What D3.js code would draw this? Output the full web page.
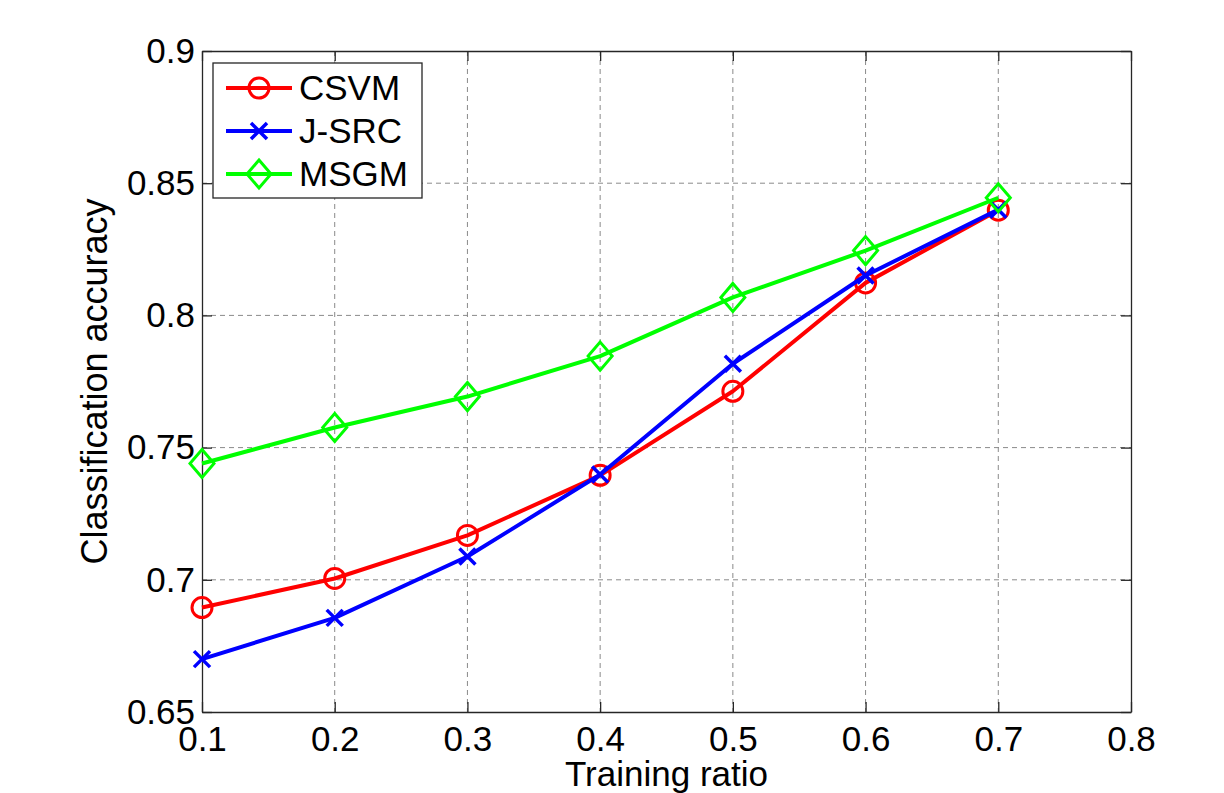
<!DOCTYPE html>
<html>
<head>
<meta charset="utf-8">
<script src="https://cdn.jsdelivr.net/npm/d3@7"></script>
<style>
  body { margin: 0; background: #fff; }
  text { font-family: "Liberation Sans", Arial, sans-serif; fill: #000; }
</style>
</head>
<body>
<div id="chart"></div>
<script>
// data
const ratios = [0.1, 0.2, 0.3, 0.4, 0.5, 0.6, 0.7];
const csvm = [0.6895, 0.7005, 0.7168, 0.7395, 0.7713, 0.8123, 0.8398];
const jsrc = [0.6700, 0.6856, 0.7088, 0.7398, 0.7817, 0.8151, 0.8400];
const msgm = [0.7440, 0.7576, 0.7693, 0.7846, 0.8068, 0.8245, 0.8445];
const xTicks = [0.1, 0.2, 0.3, 0.4, 0.5, 0.6, 0.7, 0.8];
const yTicks = [0.65, 0.7, 0.75, 0.8, 0.85, 0.9];

const series = [
  { name: 'CSVM', values: csvm, color: '#ff0000', marker: 'circle' },
  { name: 'J-SRC', values: jsrc, color: '#0000ff', marker: 'cross' },
  { name: 'MSGM', values: msgm, color: '#00ff00', marker: 'diamond' }
];

const W = 1224, H = 793;
const margin = { top: 51, right: 93, bottom: 81, left: 202 };
const width = W - margin.left - margin.right;
const height = H - margin.top - margin.bottom;
const fontSize = '35px';

const svg = d3.select('#chart').append('svg')
  .attr('width', W).attr('height', H);
const g = svg.append('g')
  .attr('transform', `translate(${margin.left},${margin.top})`);

const x = d3.scaleLinear().domain([0.1, 0.8]).range([0, width]);
const y = d3.scaleLinear().domain([0.65, 0.9]).range([height, 0]);

// dashed grid
g.append('g').selectAll('line').data(xTicks.slice(1, -1)).join('line')
  .attr('x1', d => x(d)).attr('x2', d => x(d))
  .attr('y1', 0).attr('y2', height)
  .attr('stroke', '#8a8a8a').attr('stroke-width', 1).attr('stroke-dasharray', '5,4');
g.append('g').selectAll('line').data(yTicks.slice(1, -1)).join('line')
  .attr('y1', d => y(d)).attr('y2', d => y(d))
  .attr('x1', 0).attr('x2', width)
  .attr('stroke', '#8a8a8a').attr('stroke-width', 1).attr('stroke-dasharray', '5,4');

// axes with inward ticks, mirrored on top/right
const fmt = d3.format('');
const xAxis = g.append('g').attr('transform', `translate(0,${height})`)
  .call(d3.axisBottom(x).tickValues(xTicks).tickFormat(fmt).tickSizeInner(-10).tickSizeOuter(0).tickPadding(14));
const yAxis = g.append('g')
  .call(d3.axisLeft(y).tickValues(yTicks).tickFormat(fmt).tickSizeInner(-10).tickSizeOuter(0).tickPadding(7));
g.append('g').call(d3.axisTop(x).tickValues(xTicks).tickFormat('').tickSizeInner(-10).tickSizeOuter(0));
g.append('g').attr('transform', `translate(${width},0)`)
  .call(d3.axisRight(y).tickValues(yTicks).tickFormat('').tickSizeInner(-10).tickSizeOuter(0));

g.selectAll('.domain, .tick line').attr('stroke', '#262626').attr('stroke-width', 1.3);
xAxis.selectAll('text').style('font-size', fontSize);
yAxis.selectAll('text').style('font-size', fontSize);

// axis titles
g.append('text')
  .attr('x', width / 2).attr('y', height + 74)
  .attr('text-anchor', 'middle').style('font-size', fontSize)
  .text('Training ratio');
g.append('text')
  .attr('transform', `translate(-95,${height / 2}) rotate(-90)`)
  .attr('text-anchor', 'middle').style('font-size', '36px')
  .text('Classification accuracy');

// markers
function drawMarker(sel, type, color) {
  if (type === 'circle') {
    sel.append('circle').attr('r', 10)
      .attr('fill', 'none').attr('stroke', color).attr('stroke-width', 3);
  } else if (type === 'cross') {
    sel.append('path').attr('d', 'M-8,-8L8,8M-8,8L8,-8')
      .attr('fill', 'none').attr('stroke', color).attr('stroke-width', 3.5);
  } else {
    sel.append('path').attr('d', 'M0,-14L12,0L0,14L-12,0Z')
      .attr('fill', 'none').attr('stroke', color).attr('stroke-width', 3);
  }
}

const line = d3.line().x(d => x(d[0])).y(d => y(d[1]));

series.forEach(s => {
  const pts = ratios.map((r, i) => [r, s.values[i]]);
  g.append('path').datum(pts)
    .attr('d', line)
    .attr('fill', 'none').attr('stroke', s.color).attr('stroke-width', 4)
    .attr('stroke-linejoin', 'round');
  pts.forEach(p => {
    const m = g.append('g').attr('transform', `translate(${x(p[0])},${y(p[1])})`);
    drawMarker(m, s.marker, s.color);
  });
});

// legend
const legend = g.append('g').attr('transform', 'translate(11,12)');
legend.append('rect').attr('width', 209).attr('height', 135)
  .attr('fill', '#fff').attr('stroke', '#262626').attr('stroke-width', 1.3);
series.forEach((s, i) => {
  const row = legend.append('g').attr('transform', `translate(0,${25 + i * 43})`);
  row.append('line').attr('x1', 13).attr('x2', 79)
    .attr('stroke', s.color).attr('stroke-width', 4);
  const m = row.append('g').attr('transform', 'translate(46,0)');
  drawMarker(m, s.marker, s.color);
  row.append('text').attr('x', 86).attr('dy', '0.35em')
    .style('font-size', fontSize).text(s.name);
});
</script>
</body>
</html>
